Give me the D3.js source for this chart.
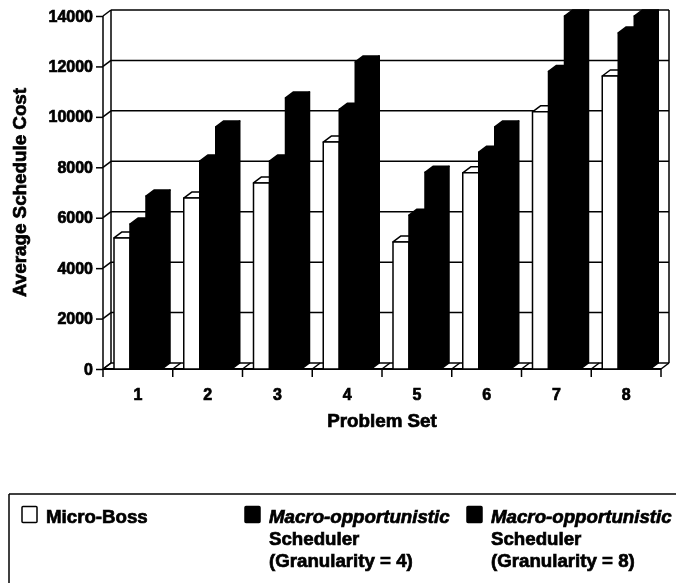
<!DOCTYPE html>
<html>
<head>
<meta charset="utf-8">
<script src="https://cdn.jsdelivr.net/npm/d3@7"></script>
<style>
  html, body { margin: 0; padding: 0; background: #fff; }
  svg { display: block; filter: blur(0.5px); }
  text { font-family: "Liberation Sans", Arial, sans-serif; font-weight: bold; fill: #000; stroke: #000; stroke-width: 0.7px; }
</style>
</head>
<body>
<div id="chart-container"></div>
<script>
// Values
const problemSets = ["1", "2", "3", "4", "5", "6", "7", "8"];
const yTicks = [0, 2000, 4000, 6000, 8000, 10000, 12000, 14000];
const microBoss = [5200, 6780, 7380, 9000, 5040, 7780, 10200, 11620];
const macroGran4 = [5750, 8250, 8250, 10300, 6100, 8600, 11800, 13330];
const macroGran8 = [6860, 9600, 10750, 12180, 7800, 9600, 14000, 14000];

const seriesNames = ["Micro-Boss", "Macro 4", "Macro 8"];
const seriesValues = [microBoss, macroGran4, macroGran8];
const seriesFill = ["#fff", "#000", "#000"];

const width = 676;
const height = 583;

// 3d offset of the back wall
const depthX = 8;
const depthY = 6;

const svg = d3.select("#chart-container")
  .append("svg")
  .attr("width", width)
  .attr("height", height);

const x = d3.scaleBand().domain(problemSets).range([103, 661]);
const y = d3.scaleLinear().domain([0, 14000]).range([369, 16]);
const inner = d3.scaleBand().domain(seriesNames).range([11, 59]);

const line = (x1, y1, x2, y2, w) =>
  svg.append("line")
    .attr("x1", x1).attr("y1", y1).attr("x2", x2).attr("y2", y2)
    .attr("stroke", "#000").attr("stroke-width", w || 1.5);

// Walls and grid
yTicks.forEach((t) => {
  line(x.range()[0], y(t), x.range()[0] + depthX, y(t) - depthY);
  line(x.range()[0] + depthX, y(t) - depthY, x.range()[1] + depthX, y(t) - depthY);
});
line(x.range()[0], y(0), x.range()[0], y(14000));
line(x.range()[0] + depthX, y(0) - depthY, x.range()[0] + depthX, y(14000) - depthY);
line(x.range()[1] + depthX, y(0) - depthY, x.range()[1] + depthX, y(14000) - depthY);

// Floor
const boundaries = problemSets.map((d) => x(d)).concat([x.range()[1]]);
boundaries.forEach((b) => {
  line(b, y(0), b + depthX, y(0) - depthY);
  line(b, y(0), b, y(0) + 8);
});
line(x.range()[0], y(0), x.range()[1], y(0), 1.8);

// Bars
problemSets.forEach((set, i) => {
  seriesNames.forEach((name, s) => {
    const v = seriesValues[s][i];
    const x0 = x(set) + inner(name);
    const x1 = x0 + inner.bandwidth();
    const top = y(v);
    const base = y(0);
    const fill = seriesFill[s];
    const g = svg.append("g")
      .attr("fill", fill)
      .attr("stroke", "#000")
      .attr("stroke-width", 1.5)
      .attr("stroke-linejoin", "round");
    g.append("path").attr("d", `M${x1},${base}L${x1 + depthX},${base - depthY}L${x1 + depthX},${top - depthY}L${x1},${top}Z`);
    g.append("path").attr("d", `M${x0},${top}L${x0 + depthX},${top - depthY}L${x1 + depthX},${top - depthY}L${x1},${top}Z`);
    g.append("path").attr("d", `M${x0},${base}L${x0},${top}L${x1},${top}L${x1},${base}Z`);
  });
});

// Axes
const yAxis = svg.append("g")
  .attr("transform", `translate(${x.range()[0]},0)`)
  .call(d3.axisLeft(y).tickValues(yTicks).tickSize(7).tickPadding(3).tickFormat(d3.format("d")));
yAxis.select(".domain").remove();
yAxis.selectAll("line").attr("stroke", "#000").attr("stroke-width", 1.5);

const xAxis = svg.append("g")
  .attr("transform", `translate(0,${y(0)})`)
  .call(d3.axisBottom(x).tickSize(0).tickPadding(20));
xAxis.select(".domain").remove();

yAxis.attr("font-family", null).attr("font-size", 16);
xAxis.attr("font-family", null).attr("font-size", 16);

svg.append("text")
  .attr("transform", "translate(26,192.5) rotate(-90)")
  .attr("text-anchor", "middle")
  .attr("font-size", 18.8)
  .text("Average Schedule Cost");

svg.append("text")
  .attr("x", 382)
  .attr("y", 427)
  .attr("text-anchor", "middle")
  .attr("font-size", 18.8)
  .text("Problem Set");

// Legend box runs off the right and bottom edges
line(9, 494, width, 494);
line(9, 494, 9, height);

const legendRows = [
  { swatch: 22, fill: "#fff", lines: ["Micro-Boss"] },
  { swatch: 245, fill: "#000", lines: ["Macro-opportunistic", "Scheduler", "(Granularity = 4)"] },
  { swatch: 467, fill: "#000", lines: ["Macro-opportunistic", "Scheduler", "(Granularity = 8)"] },
];

legendRows.forEach((row) => {
  svg.append("rect")
    .attr("x", row.swatch)
    .attr("y", 506.5)
    .attr("width", 15)
    .attr("height", 16)
    .attr("rx", 1)
    .attr("fill", row.fill)
    .attr("stroke", "#000")
    .attr("stroke-width", 1.5);
  row.lines.forEach((t, i) => {
    svg.append("text")
      .attr("x", row.swatch + 24)
      .attr("y", 523 + i * 22)
      .attr("font-size", 18.7)
      .style("font-style", t.startsWith("Macro") ? "italic" : "normal")
      .text(t);
  });
});
</script>
</body>
</html>
